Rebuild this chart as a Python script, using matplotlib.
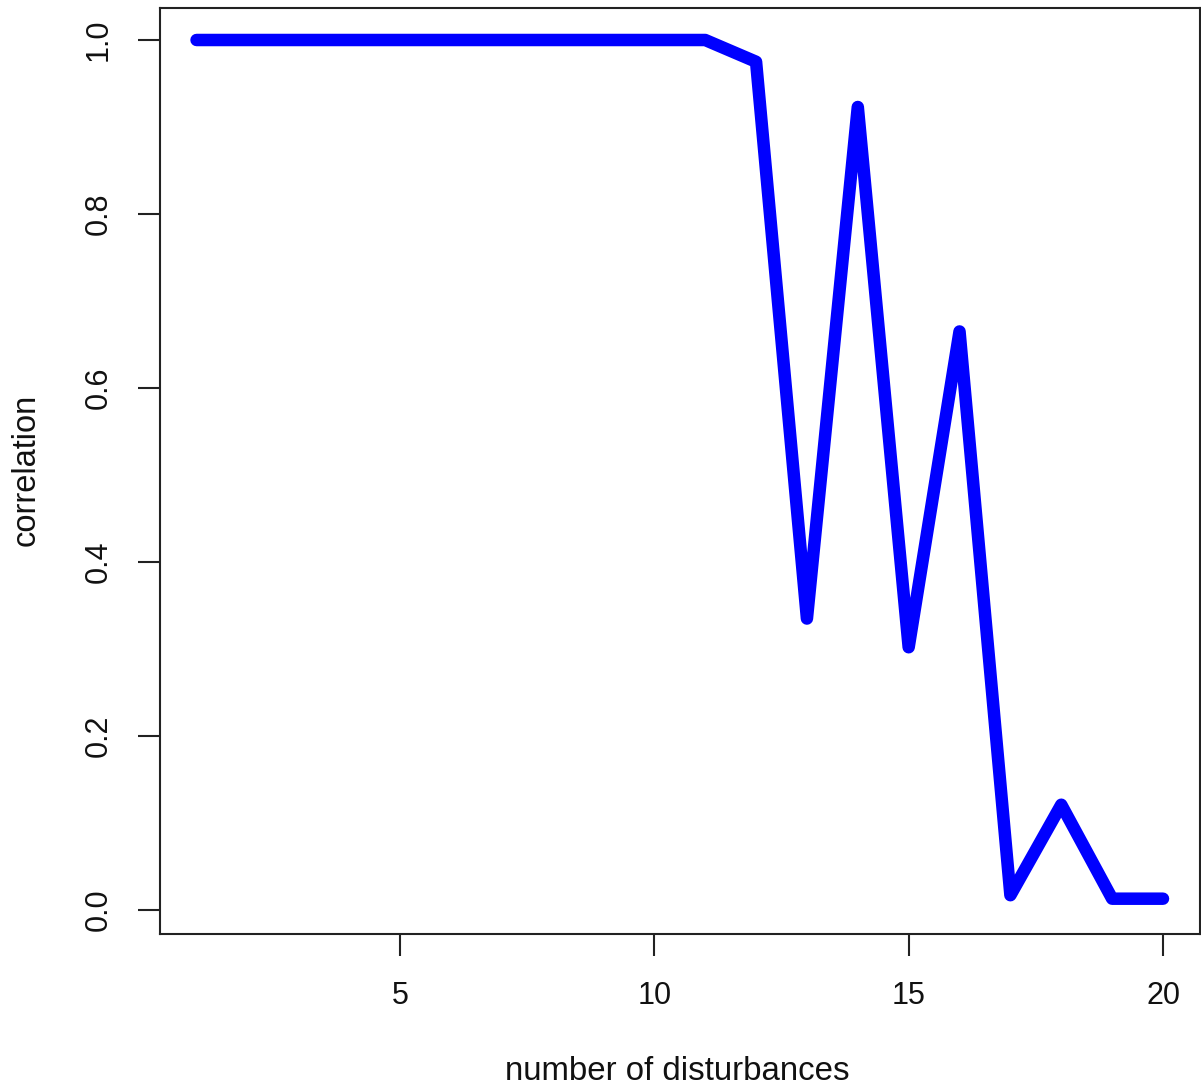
import matplotlib
matplotlib.use("Agg")
import matplotlib.pyplot as plt

x_values = list(range(1, 21))
correlation = [1.0, 1.0, 1.0, 1.0, 1.0, 1.0, 1.0, 1.0, 1.0, 1.0, 1.0,
               0.975, 0.335, 0.923, 0.302, 0.665, 0.017, 0.121, 0.013, 0.013]
x_ticks = [5, 10, 15, 20]
y_ticks = [0.0, 0.2, 0.4, 0.6, 0.8, 1.0]
y_tick_labels = ["0.0", "0.2", "0.4", "0.6", "0.8", "1.0"]

plt.rcParams['font.family'] = ['Liberation Sans', 'DejaVu Sans']

W, H = 1201, 1092
fig = plt.figure(figsize=(W / 100, H / 100), dpi=100)
L, R, T, B = 160, 1200, 8, 934
ax = fig.add_axes([L / W, 1 - B / H, (R - L) / W, (B - T) / H])

ax.plot(x_values, correlation, color="#0000FF", lw=9.0,
        solid_capstyle="round", solid_joinstyle="round")

# x: 5 at px 400, 20 at px 1163
sx = (1163 - 400) / 15
ax.set_xlim(5 - (400 - L) / sx, 20 + (R - 1163) / sx)
# y: 1.0 at px 40, 0.0 at px 910
sy = (910 - 40) / 1.0
ax.set_ylim(-(B - 910) / sy, 1.0 + (40 - T) / sy)

ax.set_xticks(x_ticks)
ax.set_xticklabels([str(v) for v in x_ticks])
ax.set_yticks(y_ticks)
ax.set_yticklabels(y_tick_labels, rotation=90, va="center")

for s in ax.spines.values():
    s.set_linewidth(1.5)
    s.set_color("#222222")
ax.tick_params(axis="both", length=15.5, width=1.5, color="#222222",
               labelsize=22, pad=18, labelcolor="#111111")

fig.text(677 / W, 1 - 1071 / H, "number of disturbances", ha="center",
         va="center", fontsize=23.8, color="#111111")
fig.text(26 / W, 1 - 470 / H, "correlation", ha="center", va="center",
         rotation=90, fontsize=23.5, color="#111111")

fig.savefig("out.png", dpi=100)
